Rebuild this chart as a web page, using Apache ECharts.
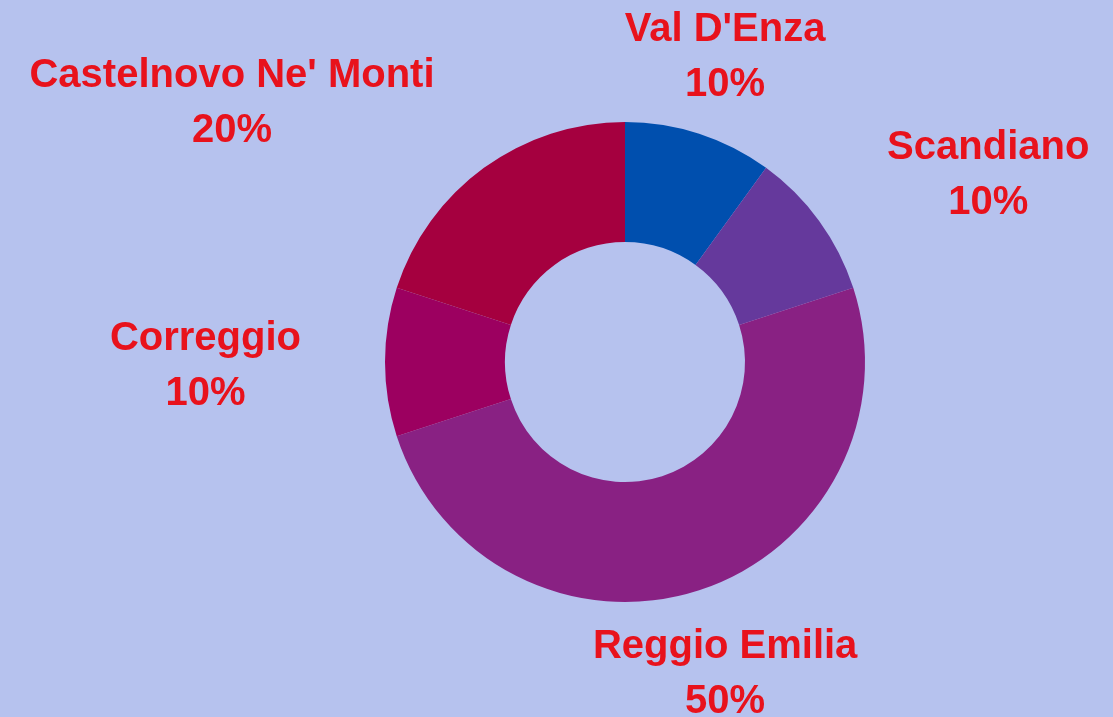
<!DOCTYPE html>
<html>
<head>
<meta charset="utf-8">
<script src="https://cdn.jsdelivr.net/npm/echarts@6/dist/echarts.min.js"></script>
<style>
html,body{margin:0;padding:0;background:#b6c2ee;}
#chart{width:1113px;height:717px;}
</style>
</head>
<body>
<div id="chart"></div>
<script>
const categories = ["Val D'Enza", "Scandiano", "Reggio Emilia", "Correggio", "Castelnovo Ne' Monti"];
const values = [10, 10, 50, 10, 20];
const colors = ['#004fae', '#65399c', '#892183', '#9c0060', '#a5003f'];

const CX = 625, CY = 362, R_IN = 120, R_OUT = 240, LABEL_R = 324, LABEL_DY = 4;
const total = values.reduce((a, b) => a + b, 0);
const midAngles = [];
let acc = 0;
values.forEach(v => { midAngles.push((acc + v / 2) / total * 2 * Math.PI); acc += v; });

const chart = echarts.init(document.getElementById('chart'));
chart.setOption({
  backgroundColor: '#b6c2ee',
  animation: false,
  series: [{
    type: 'pie',
    center: [CX, CY],
    radius: [R_IN, R_OUT],
    startAngle: 90,
    clockwise: true,
    avoidLabelOverlap: false,
    data: categories.map((c, i) => ({ name: c, value: values[i], itemStyle: { color: colors[i] } })),
    label: {
      show: true,
      position: 'outside',
      formatter: p => p.name + '\n' + Math.round(p.percent) + '%',
      color: '#e8121c',
      fontFamily: 'Liberation Sans, Arial, sans-serif',
      fontWeight: 'bold',
      fontSize: 40,
      lineHeight: 55,
      align: 'center'
    },
    labelLine: { show: false },
    emphasis: { disabled: true },
    labelLayout: function (params) {
      const a = midAngles[params.dataIndex];
      const dx = Math.sin(a), dy = -Math.cos(a);
      const ax = CX + LABEL_R * dx, ay = CY + LABEL_R * dy + LABEL_DY;
      const w = params.labelRect.width;
      let x = ax;
      if (Math.abs(dx) >= 0.5) x = dx > 0 ? ax + w / 2 : ax - w / 2;
      return { x: x, y: ay, align: 'center', verticalAlign: 'middle' };
    }
  }]
});
</script>
</body>
</html>
